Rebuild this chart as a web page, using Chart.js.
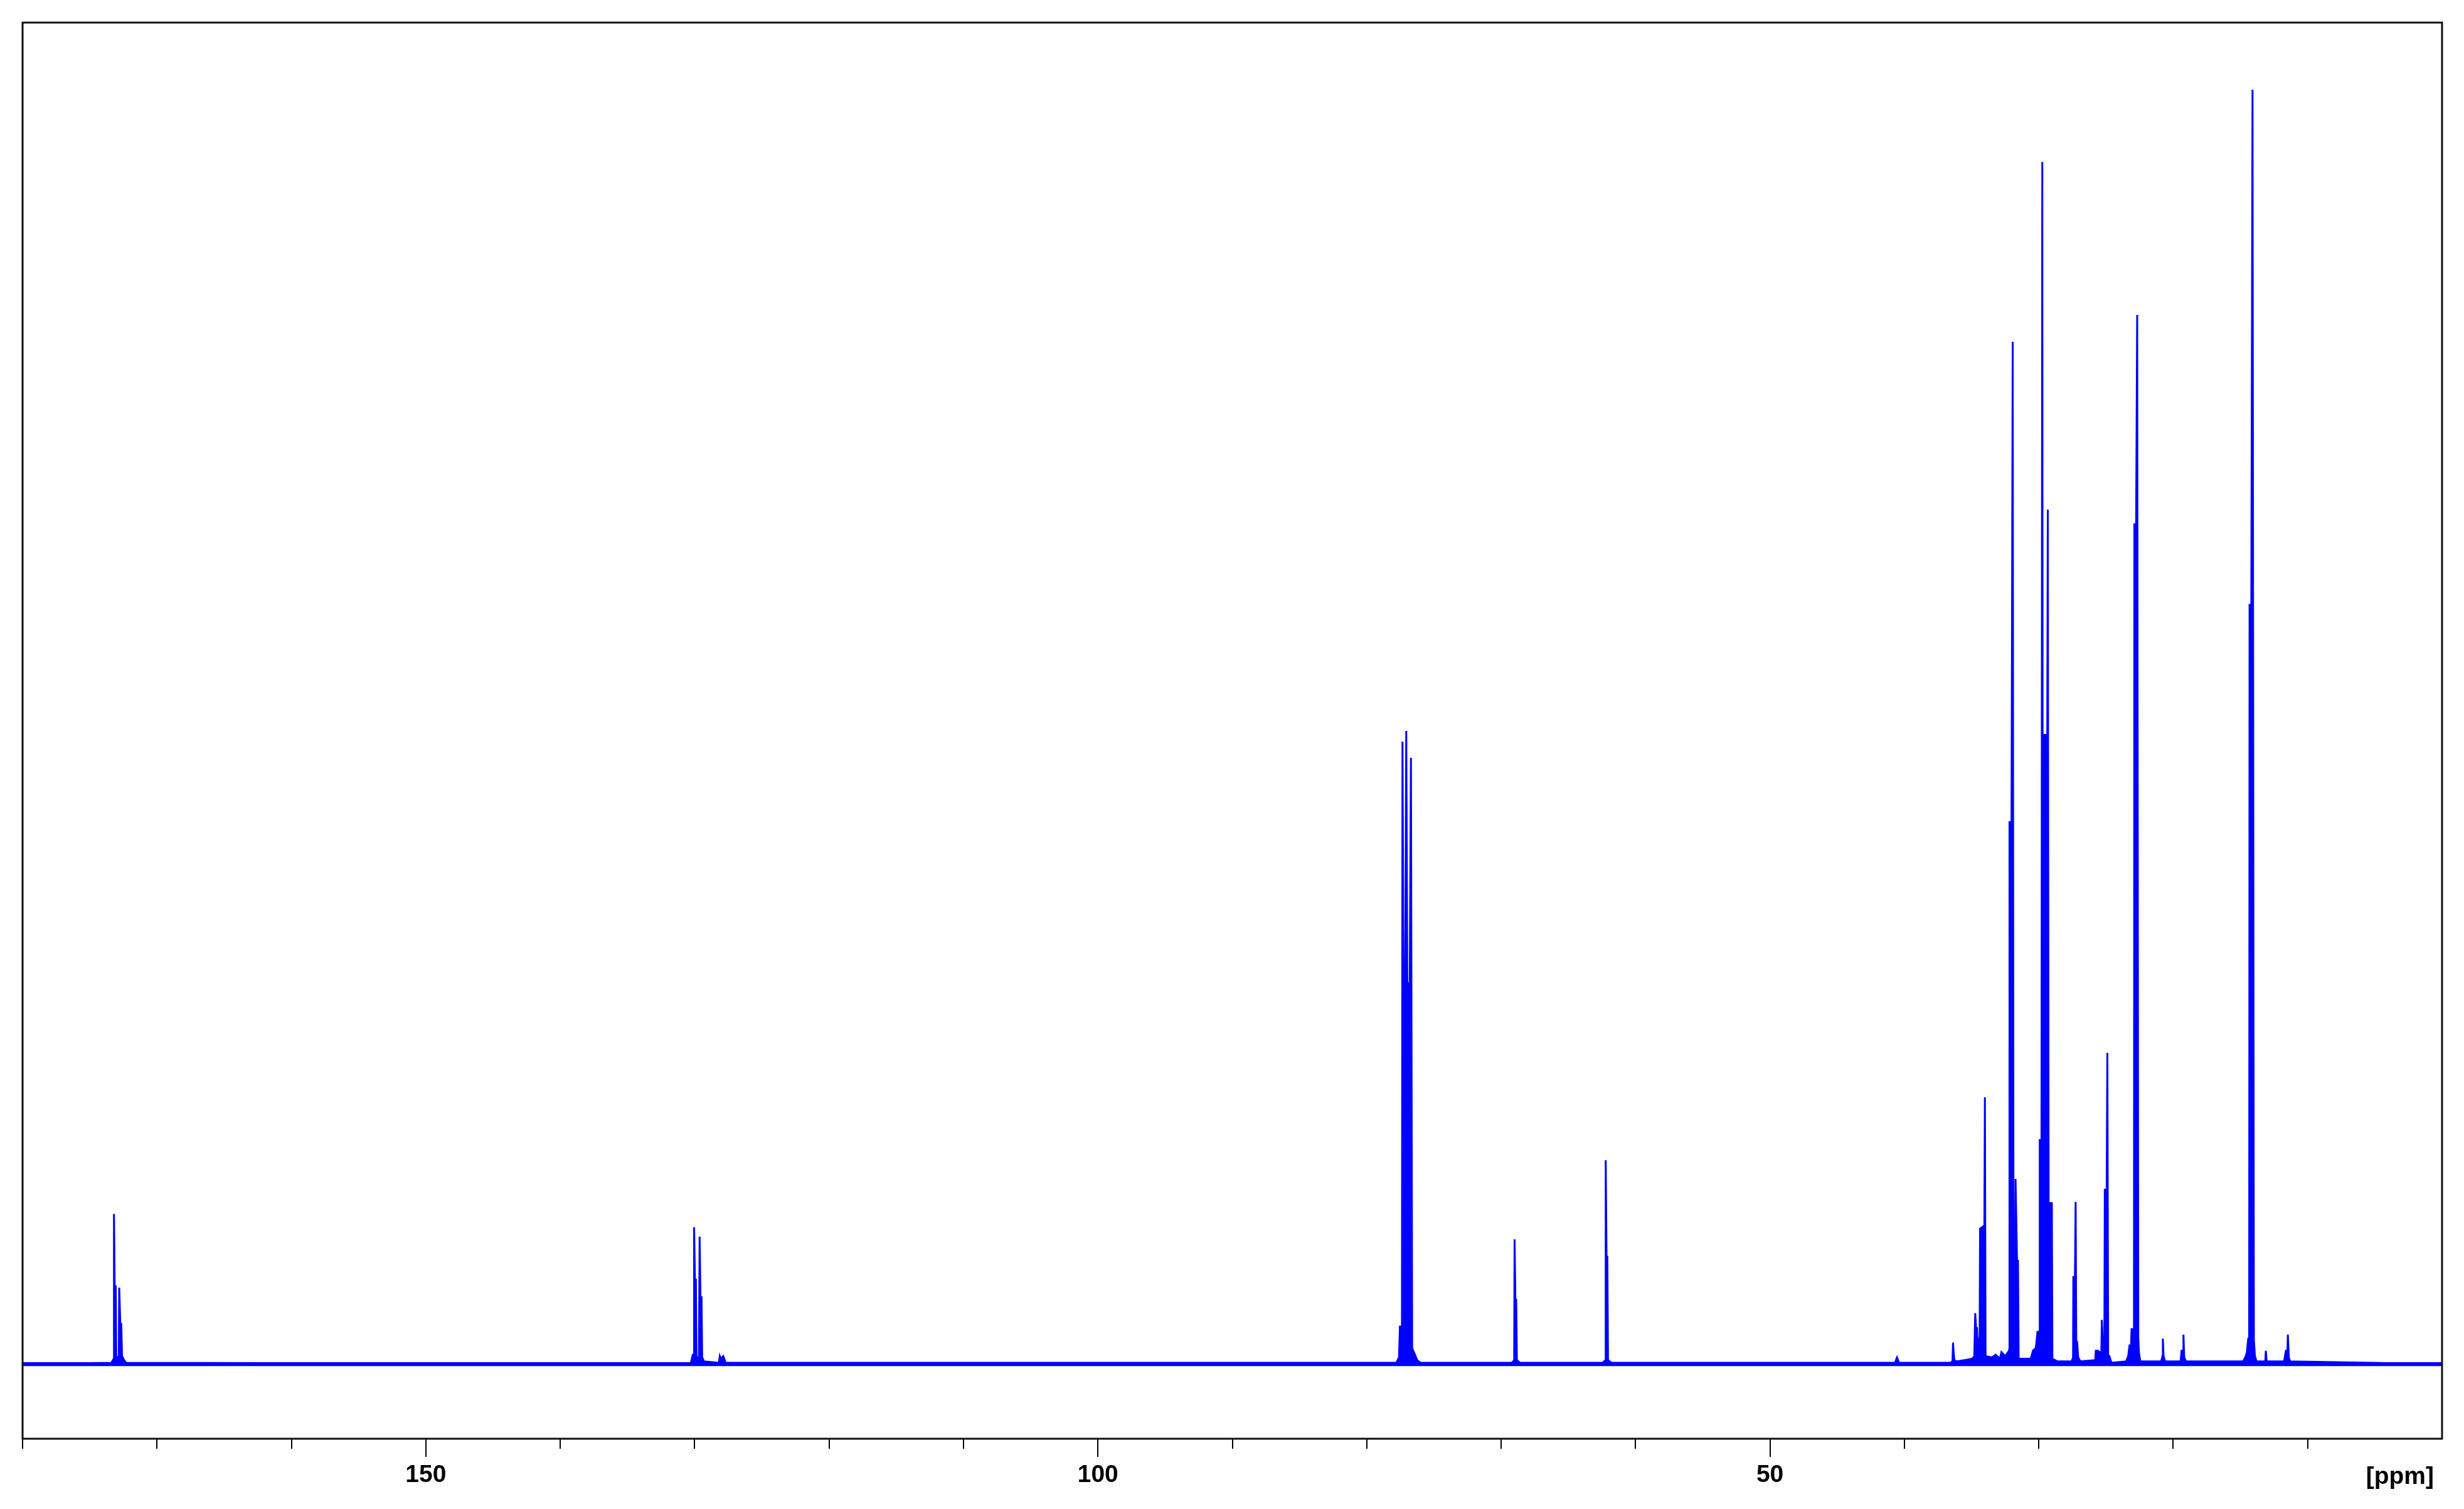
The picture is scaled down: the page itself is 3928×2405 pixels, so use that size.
<!DOCTYPE html>
<html>
<head>
<meta charset="utf-8">
<title>13C NMR spectrum</title>
<script src="https://cdn.jsdelivr.net/npm/chart.js"></script>
<style>
html, body { margin: 0; padding: 0; background: #fff; }
#wrap { width: 3928px; height: 2405px; }
</style>
</head>
<body>
<div id="wrap"><canvas id="myChart"></canvas></div>
<script>
// spectrum trace: chemical shift (ppm) and intensity (tallest peak ~95)
const shiftPpm = [
  180,
  173.40, 173.22, 173.20, 173.15, 173.07, 173.03, 172.84, 172.81, 172.73, 172.66, 172.60, 172.45, 172.30,
  130.30, 130.14, 130.06, 130.04, 129.98, 129.91, 129.86, 129.68, 129.63, 129.57, 129.49, 129.44, 129.30,
  128.20, 128.13, 128.06, 127.87, 127.80, 127.70,
  77.80, 77.60, 77.53, 77.38, 77.34, 77.25, 77.15, 77.06, 76.98, 76.80, 76.71, 76.62, 76.45, 76.25, 76.00,
  69.20, 69.03, 69.00, 68.94, 68.88, 68.83, 68.60,
  62.45, 62.25, 62.22, 62.16, 62.10, 62.05, 61.80,
  40.70, 40.55, 40.40,
  36.60, 36.42, 36.38, 36.33, 36.28, 36.10, 35.50, 34.95, 34.80, 34.73, 34.67, 34.60, 34.52, 34.46, 34.40,
  34.37, 34.10, 34.05, 34.01, 33.96, 33.50, 33.20, 32.90, 32.78, 32.50, 32.22, 32.20, 32.18, 32.03, 31.94,
  31.88, 31.80, 31.73, 31.62, 31.55, 31.50,
  30.60, 30.44, 30.22, 30.10, 29.96, 29.93, 29.80, 29.74, 29.70, 29.66, 29.63, 29.37, 29.33, 29.27, 29.03,
  28.99, 28.60,
  27.55, 27.45, 27.43, 27.31, 27.26, 27.21, 27.13, 27.07, 26.90,
  25.80, 25.76, 25.60, 25.35, 25.31, 25.24, 25.12, 25.09, 24.95, 24.90, 24.84, 24.75, 24.60,
  23.50, 23.35, 23.25, 23.14, 23.10, 22.92, 22.89, 22.76, 22.68, 22.60, 22.55, 22.45,
  20.90, 20.80, 20.77, 20.72, 20.60,
  19.45, 19.38, 19.27, 19.24, 19.18, 19.05,
  14.80, 14.60, 14.52, 14.42, 14.35, 14.32, 14.19, 14.10, 14.00, 13.92, 13.80,
  13.15, 13.11, 13.05,
  11.75, 11.62, 11.50, 11.47, 11.40, 11.30,
  0
];
const intensity = [
  0,
  0.1, 0.4, 11.2, 5.8, 5.8, 0.4, 0.6, 5.7, 3.0, 3.0, 0.6, 0.3, 0.1,
  0, 0.7, 0.7, 10.2, 6.3, 6.3, 0.5, 0.5, 9.5, 5.0, 5.0, 0.5, 0.2,
  0.1, 0.6, 0.4, 0.6, 0.4, 0.1,
  0.1, 0.5, 2.8, 2.8, 46.4, 24.8, 24.8, 47.2, 28.4, 28.4, 45.2, 1.2, 0.8, 0.3, 0.1,
  0.1, 0.3, 9.3, 4.8, 4.8, 0.3, 0.1,
  0.1, 0.3, 15.2, 8.0, 8.0, 0.3, 0.1,
  0.1, 0.5, 0.1,
  0.1, 0.2, 1.6, 0.8, 0.3, 0.2, 0.3, 0.4, 0.6, 3.8, 2.7, 2.7, 0.9, 1.9, 1.9,
  10.1, 10.3, 10.3, 19.9, 0.6, 0.5, 0.7, 0.4, 0.9, 0.6, 1.0, 1.1, 40.4, 40.4, 76.2,
  1.6, 1.6, 13.8, 7.7, 7.7, 0.4,
  0.4, 1.0, 1.2, 2.4, 2.4, 16.7, 16.7, 89.6, 11.3, 11.3, 46.9, 46.9, 63.7, 12.0, 12.0,
  0.4, 0.2,
  0.2, 0.5, 6.5, 6.5, 12.1, 1.1, 1.4, 0.5, 0.2,
  0.3, 1.0, 1.0, 0.8, 3.3, 1.6, 1.6, 13.0, 13.0, 23.2, 0.6, 0.6, 0.1,
  0.2, 0.6, 1.4, 1.4, 2.6, 2.6, 62.6, 62.6, 78.2, 2.0, 0.9, 0.2,
  0.2, 0.6, 1.9, 0.6, 0.2,
  0.2, 1.0, 1.0, 2.2, 0.5, 0.2,
  0.2, 0.6, 0.9, 1.9, 1.9, 56.6, 56.6, 95.0, 1.8, 0.6, 0.2,
  0.2, 1.0, 0.2,
  0.2, 1.0, 1.0, 2.2, 0.5, 0.2,
  0
];
const noiseLevel = 0.15;
const labelledTicks = [150, 100, 50];
const axisUnit = '[ppm]';

const fontFamily = '"Liberation Sans", Arial, Helvetica, sans-serif';
Chart.defaults.font.family = fontFamily;

const points = shiftPpm.map((p, i) => ({ x: p, y: intensity[i] }));

// frame, tick marks and unit label, placed with the x scale
const framePlugin = {
  id: 'framePlugin',
  afterDraw(chart) {
    const c = chart.ctx;
    const a = chart.chartArea;
    const x = chart.scales.x;
    c.save();
    c.strokeStyle = '#000';
    c.lineWidth = 2;
    c.beginPath();
    x.ticks.forEach(t => {
      if (t.value === 0) return;
      const px = Math.round(x.getPixelForValue(t.value));
      const len = labelledTicks.includes(t.value) ? 29 : 16;
      c.moveTo(px, a.bottom);
      c.lineTo(px, a.bottom + len);
    });
    c.stroke();
    c.lineWidth = 3;
    c.strokeStyle = '#111';
    c.strokeRect(a.left, a.top, a.right - a.left, a.bottom - a.top);
    c.fillStyle = '#000';
    c.font = 'bold 39px ' + fontFamily;
    c.textAlign = 'right';
    c.textBaseline = 'alphabetic';
    c.fillText(axisUnit, a.right - 13, a.bottom + 72);
    c.restore();
  }
};

const myChart = new Chart(document.getElementById('myChart').getContext('2d'), {
  type: 'line',
  data: {
    datasets: [{
      label: 'spectrum',
      data: points,
      borderColor: '#0000ff',
      backgroundColor: '#0000ff',
      borderWidth: 3,
      pointRadius: 0,
      tension: 0,
      fill: 'origin'
    }, {
      label: 'noise',
      data: [{ x: 180, y: noiseLevel }, { x: 0, y: noiseLevel }],
      borderWidth: 0,
      pointRadius: 0,
      backgroundColor: '#0000ff',
      fill: { value: -noiseLevel }
    }]
  },
  options: {
    responsive: true,
    maintainAspectRatio: false,
    animation: false,
    layout: { padding: { left: 36, right: 35, top: 36, bottom: 0 } },
    plugins: { legend: { display: false }, tooltip: { enabled: false } },
    scales: {
      x: {
        type: 'linear',
        reverse: true,
        min: 0,
        max: 180,
        grid: { display: false, drawTicks: false },
        border: { display: false },
        afterFit: scale => { scale.height = 112; },
        ticks: {
          stepSize: 10,
          autoSkip: false,
          maxRotation: 0,
          padding: 35,
          color: '#000',
          font: { size: 39, weight: 'bold' },
          callback: v => labelledTicks.includes(v) ? String(v) : ''
        }
      },
      y: {
        display: false,
        min: -5.56,
        max: 100
      }
    }
  },
  plugins: [framePlugin]
});
</script>
</body>
</html>
